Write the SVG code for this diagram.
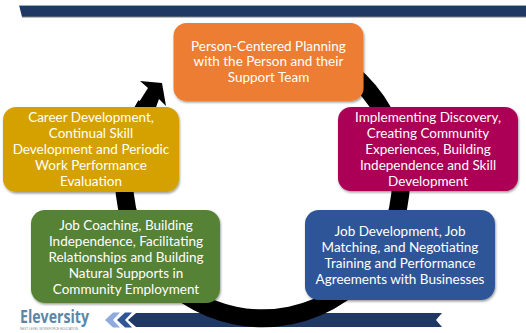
<svg xmlns="http://www.w3.org/2000/svg" width="526" height="333" viewBox="0 0 526 333">
<style>
.t{font-family:"Lato","Liberation Sans",sans-serif;font-size:13.5px;fill:#fff;text-anchor:middle}
.b{filter:url(#s)}
</style>
<defs>
<filter id="s" x="-5%" y="-5%" width="110%" height="115%"><feDropShadow dx="0.800" dy="1.500" stdDeviation="0.800" flood-color="#000" flood-opacity="0.4"/></filter>
</defs>
<rect width="526" height="333" fill="#fff"/>
<g id="top-bar">
<polygon points="19,5 526,5 526,17 22,17" fill="#1f3864"/>
<line x1="19" y1="5.500" x2="526" y2="5.500" stroke="#8faadc" stroke-width="1"/>
<line x1="22" y1="17" x2="526" y2="17" stroke="#7f7f7f" stroke-width="1"/>
</g>
<g id="bottom-bar">
<polygon points="105,320 113,312.500 120,312.500 113,320 120,327.500 113,327.500" fill="#8faadc"/>
<polygon points="117,320 125,312.500 132,312.500 125,320 132,327.500 125,327.500" fill="#2f5597"/>
<polygon points="128,320 136,313 442,313 436,320 442,327 136,327" fill="#1f3864"/>
</g>
<g id="connectors">
<path d="M340,65A138.500,138.500 0 1 1 146,105" fill="none" stroke="#000" stroke-width="18"/>
<polygon points="140,81 162,83 166,106 159,99 155,110 134,110 148,88" fill="#000"/>
</g>
<g id="node-orange">
<rect class="b" x="173.500" y="23" width="190" height="78" rx="13" fill="#ed7d31"/>
<text class="t" x="268.500" y="51">Person-Centered Planning</text>
<text class="t" x="268.500" y="66">with the Person and their</text>
<text class="t" x="268.500" y="82">Support Team</text>
</g>
<g id="node-magenta">
<rect class="b" x="338" y="107" width="180" height="84" rx="13" fill="#ab0055"/>
<text class="t" x="428" y="122">Implementing Discovery,</text>
<text class="t" x="428" y="138">Creating Community</text>
<text class="t" x="428" y="154">Experiences, Building</text>
<text class="t" x="428" y="170">Independence and Skill</text>
<text class="t" x="428" y="186">Development</text>
</g>
<g id="node-blue">
<rect class="b" x="305" y="210" width="190" height="90" rx="14" fill="#2f5597"/>
<text class="t" x="400" y="236">Job Development, Job</text>
<text class="t" x="400" y="252">Matching, and Negotiating</text>
<text class="t" x="400" y="268">Training and Performance</text>
<text class="t" x="400" y="284">Agreements with Businesses</text>
</g>
<g id="node-green">
<rect class="b" x="31" y="210" width="189" height="93" rx="14" fill="#548235"/>
<text class="t" x="126" y="230">Job Coaching, Building</text>
<text class="t" x="126" y="246">Independence, Facilitating</text>
<text class="t" x="126" y="262">Relationships and Building</text>
<text class="t" x="126" y="278">Natural Supports in</text>
<text class="t" x="126" y="294">Community Employment</text>
</g>
<g id="node-gold">
<rect class="b" x="3" y="107" width="176" height="85" rx="13" fill="#d4a100"/>
<text class="t" x="91" y="122">Career Development,</text>
<text class="t" x="91" y="138">Continual Skill</text>
<text class="t" x="91" y="154">Development and Periodic</text>
<text class="t" x="91" y="170">Work Performance</text>
<text class="t" x="91" y="186">Evaluation</text>
</g>
<g id="logo">
<text x="20" y="323" font-family="'Open Sans','Liberation Sans',sans-serif" font-size="18" font-weight="700" fill="#5b86a8" textLength="69" lengthAdjust="spacingAndGlyphs">Eleversity</text>
<text x="20" y="330" font-family="'Liberation Sans',sans-serif" font-size="3.500" fill="#7f8a94" textLength="58" lengthAdjust="spacingAndGlyphs">NEXT LEVEL WORKFORCE EDUCATION</text>
</g>
</svg>
